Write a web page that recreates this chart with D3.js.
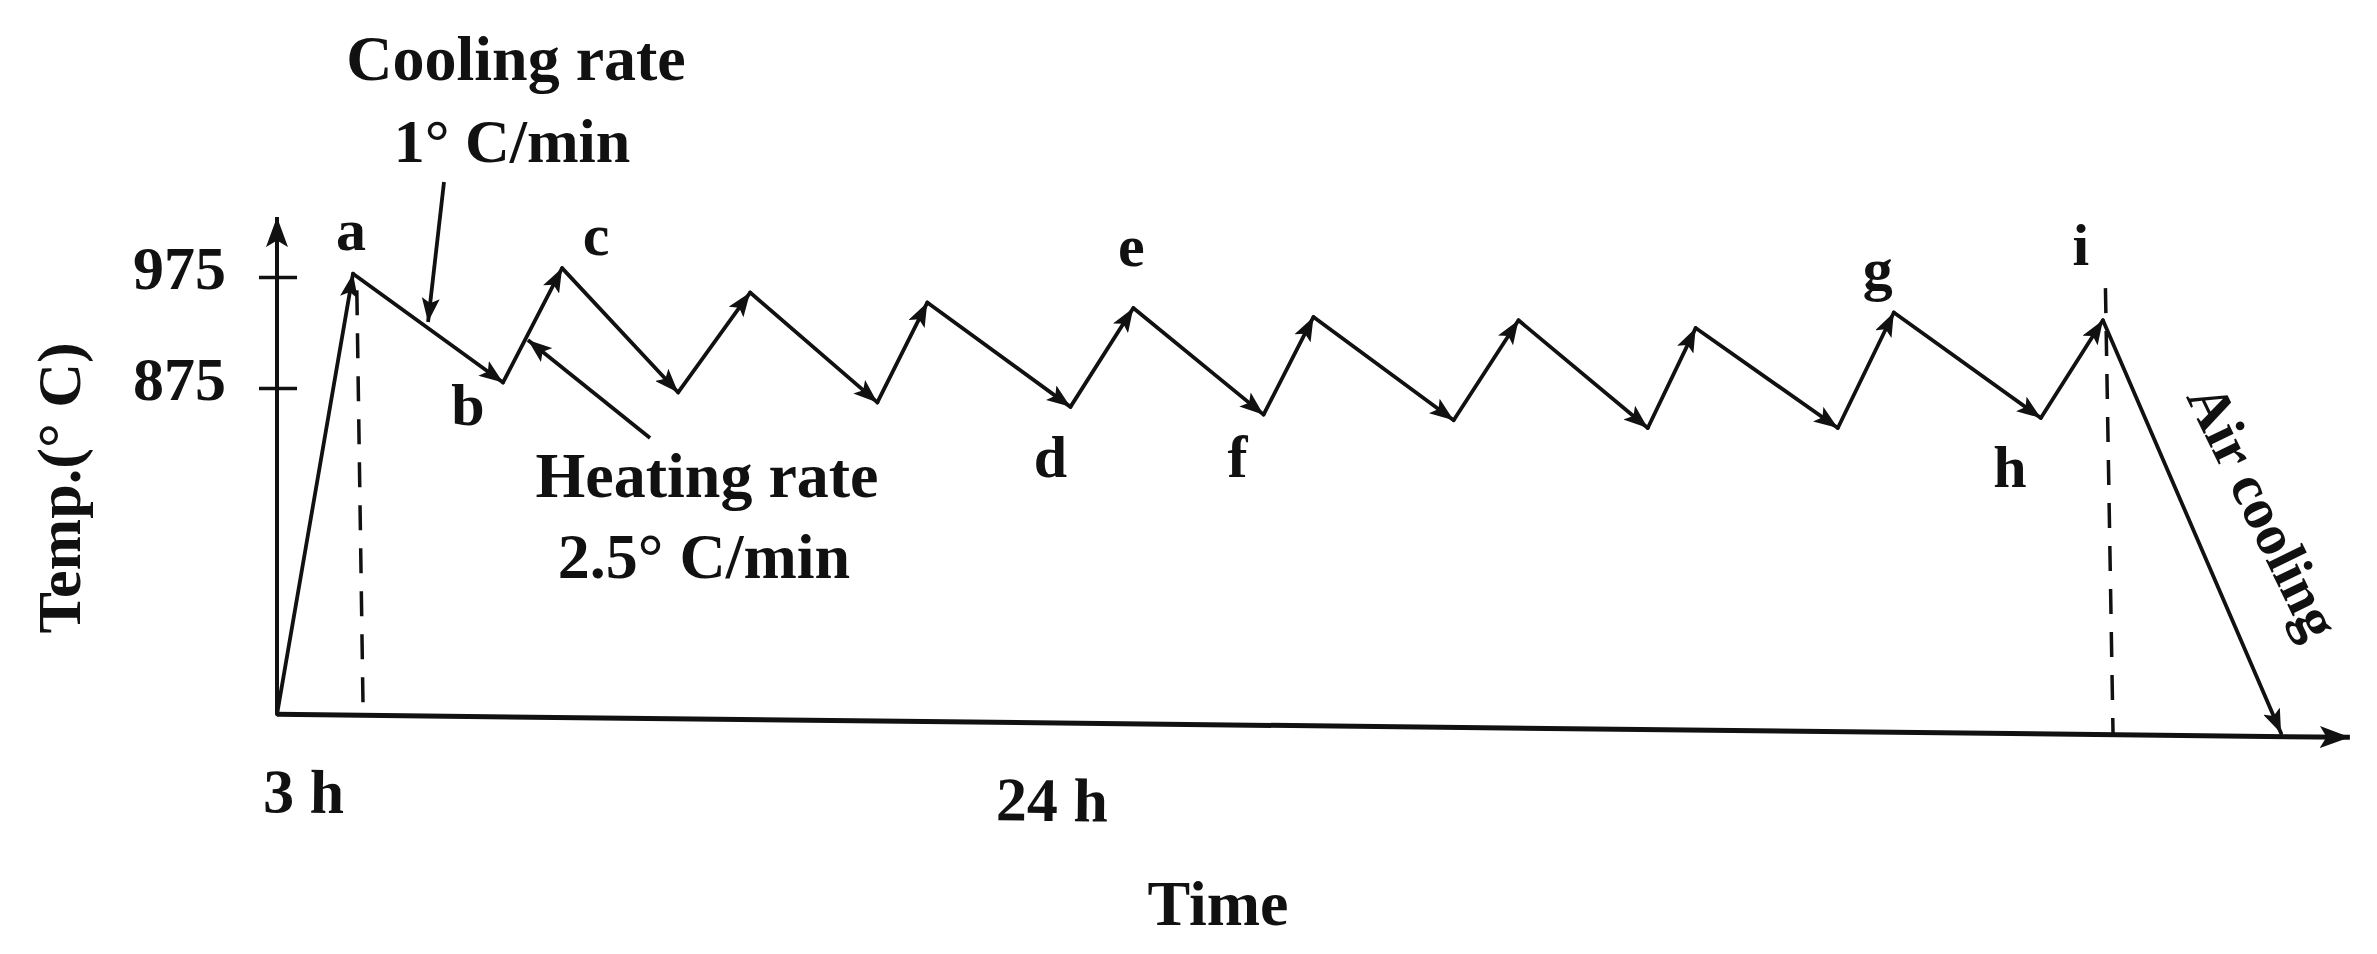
<!DOCTYPE html>
<html><head><meta charset="utf-8">
<script src="https://cdn.jsdelivr.net/npm/d3@7"></script>
<style>
html,body{margin:0;padding:0;background:#fff;}
svg{display:block;}
text{font-family:"Liberation Serif","Times New Roman",serif;font-weight:bold;fill:#111;}
</style></head><body>
<svg id="chart" width="2377" height="954"></svg>
<script>
// ---- data (time in h, temperature in °C, schematic) ----
const times  = [0, 3.0, 8.92, 11.25, 15.83, 18.67, 23.69, 25.66, 31.31, 33.79, 38.93, 40.9, 46.43, 48.99, 54.09, 55.98, 61.59, 63.8, 69.6, 72.05, 79.08];
const temps  = [581, 978, 880, 983, 871, 961, 862, 952, 858, 947, 851, 939, 846, 936, 839, 929, 839, 943, 848, 936, 564];
const pointLabels = ["", "a", "b", "c", "", "", "", "", "d", "e", "f", "", "", "", "", "", "", "g", "h", "i", ""];
const yTickValues = [875, 975];
const yTickLabels = ["875", "975"];
const xTickValues = [1.07, 30.6];
const xTickLabels = ["3 h", "24 h"];
const dashTimesTop = [3.15, 72.15];
const dashTimesBottom = [3.4, 72.45];
const dashTempsTop = [963, 965];
const timeMax = 81.8, tempMin = 581, tempMax = 1029;

// ---- scales ----
const svg = d3.select("#chart");
const x = d3.scaleLinear().domain([0, timeMax]).range([277, 2350]);
const y = d3.scaleLinear().domain([875, 975]).range([388, 277]);
const ink = "#111";
const slope = 23 / 2073;                 // slight tilt of the time axis
const angle = Math.atan(slope) * 180 / Math.PI;
const axisY = t => y(tempMin) + (x(t) - x(0)) * slope;

const defs = svg.append("defs");
function marker(id, L, W) {
  defs.append("marker").attr("id", id).attr("markerUnits", "userSpaceOnUse")
    .attr("viewBox", `0 0 ${L} ${W}`).attr("refX", L).attr("refY", W / 2)
    .attr("markerWidth", L).attr("markerHeight", W).attr("orient", "auto")
    .append("path").attr("d", `M0,0 L${L},${W/2} L0,${W} L${L*0.22},${W/2} Z`).attr("fill", ink);
}
marker("arr", 24, 18);
marker("axarr", 30, 22);

// ---- y axis ----
const gy = svg.append("g").attr("transform", `translate(${x(0)},0)`)
  .call(d3.axisLeft(y).tickValues(yTickValues).tickFormat((d, i) => yTickLabels[i]).tickSize(18).tickPadding(33));
gy.select(".domain").remove();
gy.selectAll(".tick line").attr("x1", 20).attr("stroke", ink).attr("stroke-width", 3.5);
gy.selectAll(".tick text").attr("font-size", 62).attr("dy", "0.18em")
  .attr("font-family", "Liberation Serif").attr("font-weight", "bold").attr("fill", ink);
svg.append("line").attr("x1", x(0)).attr("x2", x(0)).attr("y1", y(tempMin)).attr("y2", y(tempMax))
  .attr("stroke", ink).attr("stroke-width", 4).attr("marker-end", "url(#axarr)");

// ---- x axis (slightly tilted) ----
const xr = x.copy().range([0, x(timeMax) - x(0)]);
const gx = svg.append("g").attr("transform", `translate(${x(0)},${y(tempMin)}) rotate(${angle})`);
gx.append("line").attr("x1", 0).attr("x2", xr(timeMax)).attr("y1", 0).attr("y2", 0)
  .attr("stroke", ink).attr("stroke-width", 5).attr("marker-end", "url(#axarr)");
const ga = gx.append("g").call(d3.axisBottom(xr).tickValues(xTickValues).tickFormat((d, i) => xTickLabels[i]).tickSize(0).tickPadding(54));
ga.select(".domain").remove();
ga.selectAll(".tick text").attr("font-size", 62).attr("font-family", "Liberation Serif")
  .attr("font-weight", "bold").attr("fill", ink);

// ---- dashed guides ----
svg.append("g").selectAll("line").data(dashTimesTop).join("line")
  .attr("x1", (d) => x(d)).attr("y1", (d, i) => y(dashTempsTop[i]))
  .attr("x2", (d, i) => x(dashTimesBottom[i])).attr("y2", (d, i) => axisY(dashTimesBottom[i]))
  .attr("stroke", ink).attr("stroke-width", 3.5).attr("stroke-dasharray", "25 18");

// ---- thermal cycle segments ----
const pts = times.map((t, i) => ({ t, T: temps[i], label: pointLabels[i] }));
const segs = d3.pairs(pts);
svg.append("g").selectAll("line").data(segs).join("line")
  .attr("x1", d => x(d[0].t)).attr("y1", d => y(d[0].T))
  .attr("x2", d => x(d[1].t)).attr("y2", d => y(d[1].T))
  .attr("stroke", ink).attr("stroke-width", 3.8).attr("stroke-linecap", "round")
  .attr("marker-end", "url(#arr)");

// point letters
const offs = { a: [-2, -24], b: [-35, 43], c: [34, -13], d: [-20, 70], e: [-2, -42], f: [-26, 62], g: [-16, -24], h: [-31, 69], i: [-22, -55] };
svg.append("g").selectAll("text").data(pts.filter(p => p.label)).join("text")
  .attr("x", p => x(p.t) + offs[p.label][0]).attr("y", p => y(p.T) + offs[p.label][1])
  .attr("text-anchor", "middle").attr("font-size", 60).text(p => p.label);

// ---- annotation arrows ----
const annTimesFrom = [6.59, 14.72], annTempsFrom = [1060.6, 829.9];
const annTimesTo = [5.96, 9.9], annTempsTo = [934.5, 918.2];
svg.append("g").selectAll("line").data(annTimesFrom).join("line")
  .attr("x1", d => x(d)).attr("y1", (d, i) => y(annTempsFrom[i]))
  .attr("x2", (d, i) => x(annTimesTo[i])).attr("y2", (d, i) => y(annTempsTo[i]))
  .attr("stroke", ink).attr("stroke-width", 3.8).attr("marker-end", "url(#arr)");

// ---- texts ----
function txt(str, xx, yy, size, rot) {
  const t = svg.append("text").attr("text-anchor", "middle").attr("font-size", size);
  if (rot) t.attr("transform", `translate(${xx},${yy}) rotate(${rot})`); else t.attr("x", xx).attr("y", yy);
  t.text(str);
  return t;
}
txt("Cooling rate", 516, 80, 64);
txt("1° C/min", 512, 162, 62);
txt("Heating rate", 707, 497, 64);
txt("2.5° C/min", 704, 578, 64);
txt("Time", 1218, 925, 64);
txt("Temp.(° C)", 80, 488, 62, -90);
txt("Air cooling", 2246, 520, 58, 64);
</script>
</body></html>
